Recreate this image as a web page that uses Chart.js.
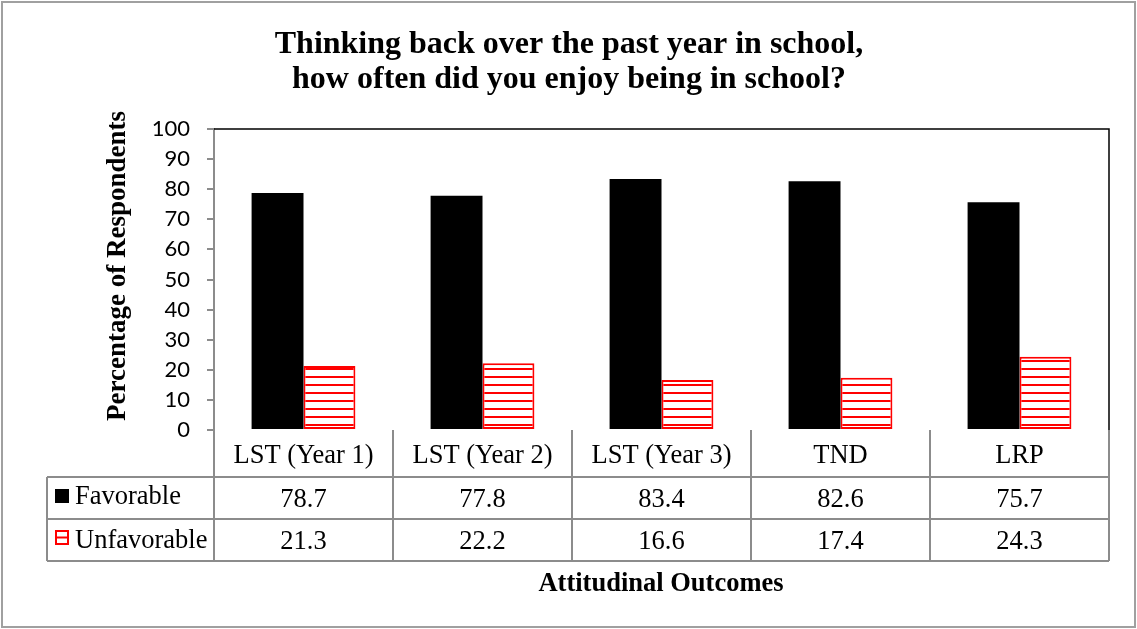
<!DOCTYPE html>
<html>
<head>
<meta charset="utf-8">
<script src="https://cdn.jsdelivr.net/npm/chart.js@4/dist/chart.umd.min.js"></script>
<style>
  body { margin: 0; background: #fff; }
  canvas { display: block; }
</style>
</head>
<body>
<canvas id="grafico" width="1137" height="629"></canvas>
<script>
const categories = ['LST (Year 1)', 'LST (Year 2)', 'LST (Year 3)', 'TND', 'LRP'];
const favorable = [78.7, 77.8, 83.4, 82.6, 75.7];
const unfavorable = [21.3, 22.2, 16.6, 17.4, 24.3];
const seriesNames = ['Favorable', 'Unfavorable'];
const yTicks = [0, 10, 20, 30, 40, 50, 60, 70, 80, 90, 100];

const titleLines = ['Thinking back over the past year in school,', 'how often did you enjoy being in school?'];
const yTitle = 'Percentage of Respondents';
const xTitle = 'Attitudinal Outcomes';

const serif = '"Liberation Serif", "Times New Roman", serif';
const gridGrey = '#8c8c8c';

// horizontal red stripes for the unfavorable bars
function stripes() {
  const c = document.createElement('canvas');
  c.width = 8; c.height = 8;
  const g = c.getContext('2d');
  g.fillStyle = '#fff';
  g.fillRect(0, 0, 8, 8);
  g.fillStyle = '#ff0000';
  g.fillRect(0, 0, 8, 2);
  return g.createPattern(c, 'repeat');
}

// title, axis titles and the data table under the plot
const extras = {
  id: 'extras',
  afterDraw(chart) {
    const ctx = chart.ctx;
    const area = chart.chartArea;
    const x = chart.scales.x;
    ctx.save();

    // outer frame
    ctx.strokeStyle = '#a0a0a0';
    ctx.lineWidth = 2;
    ctx.strokeRect(2, 2, 1133, 625);

    // plot frame top / right
    ctx.strokeStyle = '#000';
    ctx.lineWidth = 1.5;
    ctx.beginPath();
    ctx.moveTo(area.left, area.top);
    ctx.lineTo(area.right, area.top);
    ctx.lineTo(area.right, area.bottom);
    ctx.stroke();

    ctx.fillStyle = '#000';
    ctx.textAlign = 'center';
    ctx.textBaseline = 'alphabetic';
    ctx.font = 'bold 32px ' + serif;
    ctx.fillText(titleLines[0], 569, 53);
    ctx.fillText(titleLines[1], 569, 88);

    ctx.save();
    ctx.translate(125, 266);
    ctx.rotate(-Math.PI / 2);
    ctx.font = 'bold 27px ' + serif;
    ctx.fillText(yTitle, 0, 0);
    ctx.restore();

    ctx.font = 'bold 26.5px ' + serif;
    ctx.fillText(xTitle, 661, 591);

    // table
    const colW = (area.right - area.left) / categories.length;
    const top = area.bottom;
    const r1 = top + 47, r2 = r1 + 42, r3 = r2 + 42;
    const legendLeft = 47;

    ctx.strokeStyle = gridGrey;
    ctx.lineWidth = 2;
    ctx.beginPath();
    [r1, r2, r3].forEach(y => {
      ctx.moveTo(legendLeft, y);
      ctx.lineTo(area.right, y);
    });
    for (let i = 0; i <= categories.length; i++) {
      const px = area.left + i * colW;
      ctx.moveTo(px, top);
      ctx.lineTo(px, r3);
    }
    ctx.moveTo(legendLeft, r1);
    ctx.lineTo(legendLeft, r3);
    ctx.stroke();

    ctx.fillStyle = '#000';
    ctx.font = '26.5px ' + serif;
    categories.forEach((cat, i) => {
      const cx = x.getPixelForValue(i);
      ctx.fillText(cat, cx, top + 33);
      ctx.fillText(favorable[i].toFixed(1), cx, r1 + 30);
      ctx.fillText(unfavorable[i].toFixed(1), cx, r2 + 30);
    });

    // legend keys
    ctx.textAlign = 'left';
    ctx.fillText(seriesNames[0], 75, r1 + 27);
    ctx.fillText(seriesNames[1], 75, r2 + 29);
    ctx.fillRect(55, 489, 14, 14);
    ctx.strokeStyle = '#ff0000';
    ctx.lineWidth = 2;
    ctx.strokeRect(56, 531, 12, 13);
    ctx.beginPath();
    ctx.moveTo(56, 537.5);
    ctx.lineTo(68, 537.5);
    ctx.stroke();

    ctx.restore();
  }
};

new Chart(document.getElementById('grafico'), {
  type: 'bar',
  data: {
    labels: categories,
    datasets: [
      { label: seriesNames[0], data: favorable, backgroundColor: '#000', borderWidth: 0 },
      { label: seriesNames[1], data: unfavorable, backgroundColor: stripes(), borderColor: '#ff0000', borderWidth: 2, borderSkipped: false }
    ]
  },
  options: {
    responsive: false,
    animation: false,
    layout: { padding: { left: 0, top: 129, right: 28, bottom: 199 } },
    datasets: { bar: { categoryPercentage: 0.58, barPercentage: 1 } },
    plugins: { legend: { display: false }, tooltip: { enabled: false } },
    scales: {
      x: { display: false },
      y: {
        min: 0,
        max: 100,
        afterFit: scale => { scale.width = 214; },
        afterBuildTicks: scale => { scale.ticks = yTicks.map(v => ({ value: v })); },
        grid: { drawOnChartArea: false, drawTicks: true, tickLength: 7, color: gridGrey, lineWidth: 2 },
        border: { display: true, color: gridGrey, width: 2 },
        ticks: { color: '#000', padding: 17, font: { family: 'Lato', size: 22 } }
      }
    }
  },
  plugins: [extras]
});
</script>
</body>
</html>
